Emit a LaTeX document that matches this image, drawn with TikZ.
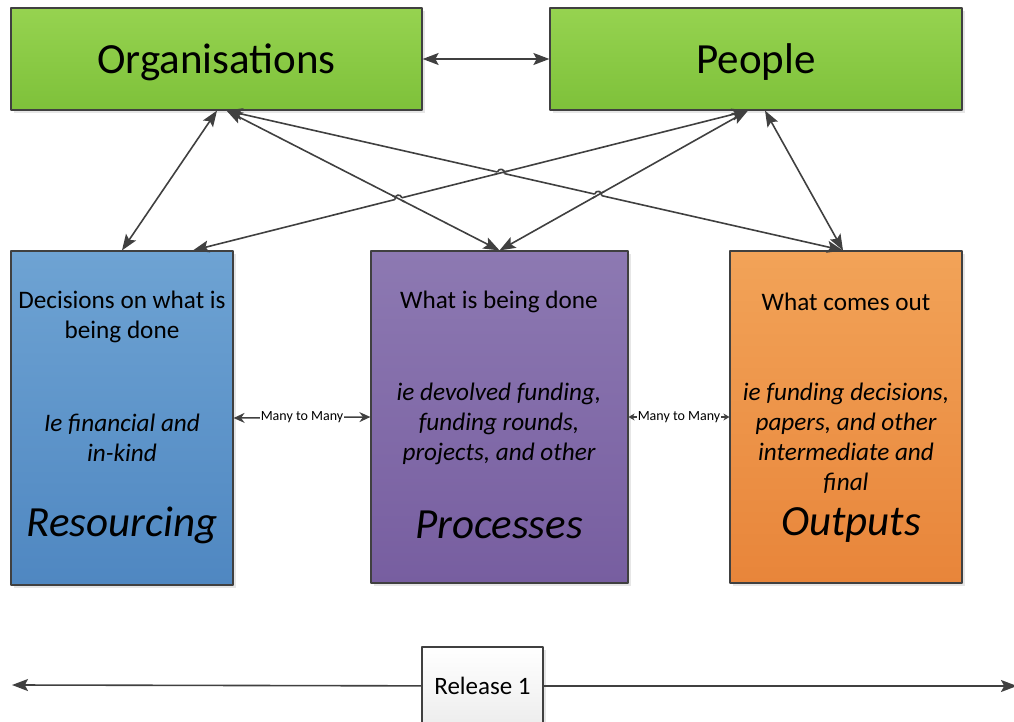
\documentclass[tikz,border=0pt]{standalone}
\usepackage{fontspec}
\setmainfont{Carlito}
\usetikzlibrary{arrows.meta,shadows,calc,intersections}
\definecolor{linegray}{HTML}{404040}
\definecolor{greenT}{HTML}{96D350}
\definecolor{greenB}{HTML}{7EC13A}
\definecolor{blueT}{HTML}{6EA3D3}
\definecolor{blueB}{HTML}{4F87C1}
\definecolor{purpT}{HTML}{8D79B2}
\definecolor{purpB}{HTML}{775EA0}
\definecolor{orT}{HTML}{F2A358}
\definecolor{orB}{HTML}{E8853A}
\definecolor{relB}{HTML}{EDEDED}
% line hop: #1 crossing, #2 and #3 ends of the hopping line (left, right), #4 and #5 ends of the other line
\newcommand{\linehop}[5]{%
    \draw[white, line width=2.8pt] ($(#1)!1.8pt!(#2)$) -- ($(#1)!1.8pt!(#3)$);
    \draw[linegray, line width=0.8pt] ($(#1)!3.4pt!(#4)$) -- ($(#1)!3.4pt!(#5)$);
    \draw[linegray, line width=0.8pt] ($(#1)!1.8pt!(#2)$) to[bend left=90, looseness=1.7] ($(#1)!1.8pt!(#3)$);}
\begin{document}
\begin{tikzpicture}[x=0.5pt, y=-0.5pt, line join=round, >={Stealth[length=8pt,width=6pt,inset=1.6pt]},
    box/.style={draw=linegray, line width=0.6pt, drop shadow={shadow xshift=1.5pt, shadow yshift=-1.5pt, opacity=0.2}},
    topbox/.style={box, top color=greenT, bottom color=greenB, minimum width=205.5pt, minimum height=51pt, text depth=0pt, font=\fontsize{21.5}{26}\selectfont},
    tallbox/.style={box, minimum height=166pt},
    small/.style={align=center, font=\fontsize{12.6}{15}\selectfont},
    note/.style={align=center, font=\fontsize{12.6}{15}\selectfont\itshape},
    title/.style={font=\fontsize{21.5}{26}\selectfont\itshape},
    link/.style={<->, draw=linegray, line width=0.8pt},
    many/.style={fill=white, inner sep=0.5pt, font=\fontsize{7}{8}\selectfont}]
    \useasboundingbox (0,0) rectangle (1014,722);
    \clip (0,0) rectangle (1014,722);
    % top row
    \node[topbox] (org) at (216.5,59) {Organisations};
    \node[topbox, minimum width=206pt] (ppl) at (756,59) {People};
    % the three columns
    \node[tallbox, top color=blueT, bottom color=blueB, minimum width=111pt, minimum height=167pt] (res) at (122,418) {};
    \node[tallbox, top color=purpT, bottom color=purpB, minimum width=128.5pt] (proc) at (499.5,417) {};
    \node[tallbox, top color=orT, bottom color=orB, minimum width=116pt] (outp) at (846,417) {};
    \node[small] (resA) at (122,317) {Decisions on what is\\being done};
    \node[note] (resB) at (122,438) {Ie financial and\\in-kind};
    \node[title] (resC) at (122,525) {Resourcing};
    \node[small] (procA) at (499,302) {What is being done};
    \node[note] (procB) at (499,423.5) {ie devolved funding,\\funding rounds,\\projects, and other};
    \node[title] (procC) at (499,525) {Processes};
    \node[small] (outA) at (846,302) {What comes out};
    \node[note] (outB) at (846,438.5) {ie funding decisions,\\papers, and other\\intermediate and\\final};
    \node[title] (outC) at (851,525) {Outputs};
    % link ends
    \coordinate (org1) at ([xshift=0.25pt]org.south);
    \coordinate (org2) at ([xshift=5pt]org.south);
    \coordinate (ppl1) at ([xshift=-4pt]ppl.south);
    \coordinate (ppl2) at ([xshift=4.5pt]ppl.south);
    \coordinate (res1) at (res.north);
    \coordinate (res2) at ([xshift=35.5pt]res.north);
    \coordinate (outp1) at ([xshift=-1.5pt]outp.north);
    % links
    \draw[link] (org) -- (ppl);
    \draw[link] (org1) -- (res1);
    \draw[link, name path=op] (org2) -- (proc.north);
    \draw[link, name path=oo] (org2) -- (outp1);
    \draw[link, name path=pr] (ppl1) -- (res2);
    \draw[link, name path=pp] (ppl1) -- (proc.north);
    \draw[link] (ppl2) -- (outp1);
    \path[name intersections={of=op and pr, by=hopA}];
    \path[name intersections={of=oo and pr, by=hopB}];
    \path[name intersections={of=oo and pp, by=hopC}];
    \linehop{hopA}{res2}{ppl1}{org2}{proc.north}
    \linehop{hopB}{org2}{outp1}{ppl1}{res2}
    \linehop{hopC}{org2}{outp1}{ppl1}{proc.north}
    \draw[link, line width=0.7pt, >={Stealth[length=5.5pt,width=5pt]}] (res.east) -- node[many] {Many to Many} (proc.west);
    \draw[link, line width=0.6pt, >={Stealth[length=3pt,width=3.5pt]}] (proc.east) -- node[many] {Many to Many} (outp.west);
    % release
    \node[box, top color=white, bottom color=relB, minimum width=60.5pt, minimum height=39pt, font=\fontsize{12.5}{15}\selectfont] (rel) at (482.5,686) {Release 1};
    \coordinate (relL) at (12,685);
    \coordinate (relR) at (1017,686);
    \draw[->, draw=linegray, line width=0.8pt] (rel) -- (relL);
    \draw[->, draw=linegray, line width=0.8pt] (rel) -- (relR);
\end{tikzpicture}
\end{document}
